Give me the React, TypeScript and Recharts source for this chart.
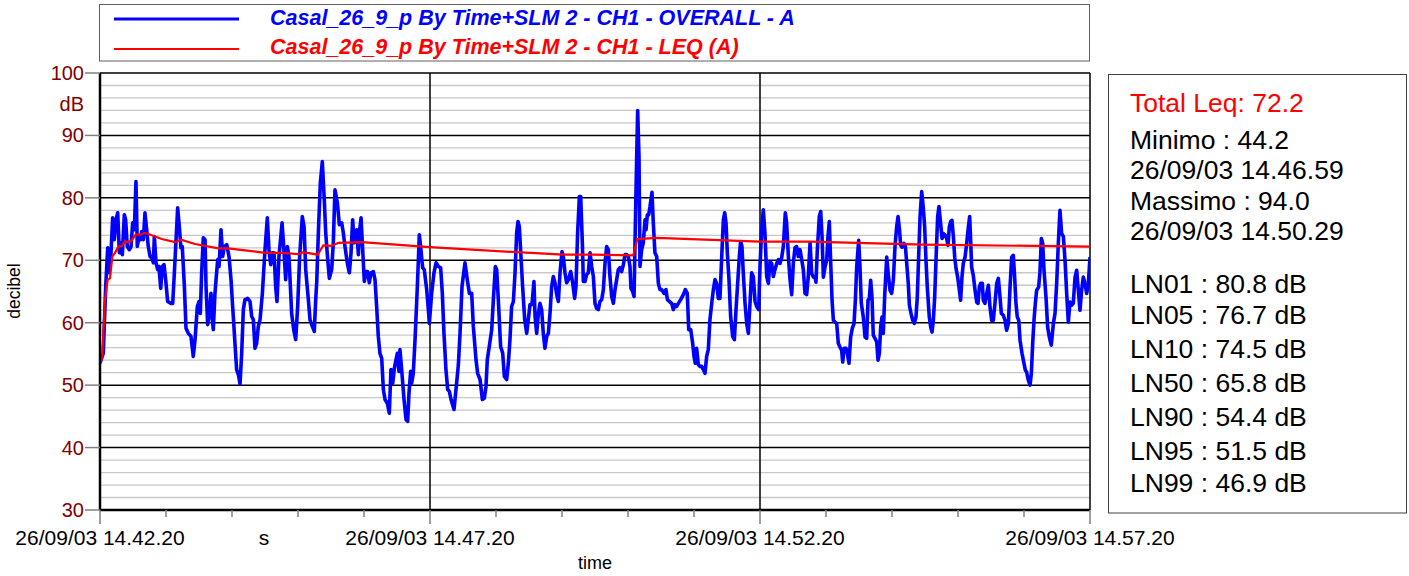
import React from 'react';
import { LineChart, Line, XAxis, YAxis, ReferenceLine } from 'recharts';

const FONT = '"Liberation Sans", Arial, Helvetica, sans-serif';

// OVERALL - A : [seconds since 14.42.20, dB]
const overallSamples: [number, number][] = [
  [0, 53.5], [3.0, 55.1], [5.2, 65.8], [7.0, 72.0], [8.2, 68.0], [10.0, 71.2], [11.5, 76.8], [13.0, 73.3], [14.5, 76.5], [16.1, 77.6],
  [17.6, 71.2], [19.1, 72.8], [20.3, 70.9], [22.1, 77.3], [23.3, 76.5], [24.8, 72.2], [26.7, 71.7], [28.2, 72.2], [29.7, 76.0], [31.2, 74.9],
  [32.7, 82.6], [33.9, 72.2], [35.5, 73.8], [37.0, 73.3], [37.9, 74.6], [39.4, 73.3], [40.9, 77.6], [42.4, 74.9], [43.9, 72.2], [45.5, 70.6],
  [47.0, 70.4], [48.5, 69.6], [49.4, 73.8], [50.9, 69.6], [52.4, 68.5], [53.6, 69.0], [55.2, 65.5], [56.7, 69.0], [58.2, 69.3], [59.7, 66.9],
  [61.5, 63.4], [64.5, 63.1], [66.1, 63.1], [67.6, 68.0], [70.6, 78.4], [72.1, 75.4], [73.6, 72.0], [74.8, 72.2], [76.7, 65.8], [78.2, 59.1],
  [80.3, 58.3], [82.7, 57.8], [84.8, 54.6], [86.4, 57.3], [88.5, 62.6], [90.0, 63.4], [91.2, 61.5], [92.4, 68.0], [93.9, 73.6], [95.5, 73.3],
  [96.4, 65.8], [97.9, 59.7], [99.4, 61.5], [100.9, 64.7], [102.1, 60.5], [103.0, 58.9], [104.5, 64.7], [107.0, 70.1], [108.2, 69.0], [110.0, 74.9],
  [111.5, 70.6], [113.0, 72.2], [115.2, 72.5], [117.3, 70.6], [119.1, 66.9], [120.6, 62.6], [122.7, 56.7], [124.2, 52.5], [125.8, 51.7], [127.3, 50.2],
  [128.8, 55.1], [130.3, 62.1], [131.8, 63.7], [134.2, 63.9], [136.4, 63.4], [137.9, 61.0], [139.4, 60.5], [140.9, 55.9], [142.4, 56.7], [143.9, 59.4],
  [145.5, 60.5], [147.6, 64.7], [150.0, 71.7], [152.1, 76.8], [153.6, 71.7], [155.2, 69.3], [156.7, 71.2], [158.2, 71.2], [159.7, 65.8], [160.9, 63.4],
  [162.7, 70.6], [165.5, 76.0], [167.0, 72.2], [168.8, 66.9], [170.3, 72.2], [171.8, 70.6], [174.2, 61.5], [176.1, 58.9], [177.9, 57.3], [179.7, 62.6],
  [181.5, 70.6], [183.9, 77.0], [185.5, 75.4], [187.0, 68.5], [189.4, 63.7], [190.9, 60.5], [193.0, 59.4], [194.8, 58.6], [196.1, 63.7], [197.0, 66.4],
  [198.5, 74.4], [200.3, 82.4], [202.1, 85.8], [203.9, 79.7], [205.2, 74.4], [207.0, 70.1], [208.5, 67.1], [210.6, 68.5], [212.1, 72.8], [213.6, 81.3],
  [215.8, 79.2], [217.6, 75.7], [219.7, 76.0], [221.2, 74.4], [222.7, 72.2], [224.8, 69.6], [226.7, 68.0], [228.2, 71.2], [229.7, 76.5], [230.9, 72.8],
  [232.4, 73.3], [233.3, 74.9], [234.9, 70.9], [235.8, 74.4], [237.3, 76.8], [238.8, 71.7], [240.3, 66.6], [241.8, 68.2], [243.3, 68.2], [244.8, 66.4],
  [246.4, 68.0], [248.5, 68.2], [250.0, 66.9], [251.5, 62.6], [253.0, 57.8], [254.5, 55.1], [256.1, 54.3], [257.6, 49.3], [259.1, 47.7], [261.2, 47.1],
  [263.0, 45.5], [264.5, 52.5], [266.1, 50.3], [267.6, 52.7], [268.8, 53.8], [270.3, 55.1], [271.8, 52.2], [272.7, 55.7], [274.5, 51.9], [276.4, 47.7],
  [278.2, 44.5], [279.7, 44.2], [280.9, 48.7], [282.4, 52.2], [283.3, 50.3], [284.8, 51.9], [286.4, 57.3], [288.5, 65.8], [290.3, 74.1], [291.5, 72.2],
  [293.3, 68.8], [294.8, 68.5], [297.0, 65.3], [298.5, 62.1], [299.4, 59.9], [301.5, 64.7], [303.6, 68.0], [305.5, 69.6], [307.6, 69.0], [309.7, 68.8],
  [311.2, 64.7], [312.7, 58.3], [314.5, 52.5], [316.1, 49.3], [317.6, 49.0], [319.1, 47.7], [321.8, 46.1], [324.2, 50.3], [325.8, 53.3], [327.3, 58.3],
  [329.1, 65.8], [331.8, 69.6], [333.9, 66.9], [335.8, 64.7], [337.9, 64.7], [339.4, 59.4], [341.8, 54.1], [343.3, 51.9], [345.5, 50.9], [347.6, 47.7],
  [349.4, 47.9], [350.9, 49.8], [352.1, 54.1], [353.9, 56.2], [356.1, 58.9], [357.6, 63.7], [359.4, 69.0], [360.6, 68.5], [362.1, 63.7], [364.2, 56.2],
  [366.1, 55.1], [367.6, 51.4], [369.7, 50.9], [371.2, 53.5], [372.7, 57.3], [374.2, 62.6], [375.8, 63.4], [377.3, 68.0], [378.8, 74.4], [380.0, 76.2],
  [381.2, 75.4], [382.7, 70.6], [384.2, 65.8], [386.1, 60.5], [387.9, 58.3], [389.7, 61.0], [390.9, 62.9], [392.7, 62.9], [394.5, 66.6], [395.5, 61.0],
  [397.0, 58.3], [398.5, 61.5], [400.0, 63.1], [401.5, 62.1], [403.0, 58.3], [404.5, 55.9], [406.1, 57.8], [407.6, 58.3], [409.1, 61.5], [410.6, 65.8],
  [412.1, 67.4], [413.6, 66.4], [415.2, 64.5], [416.7, 63.4], [418.2, 68.0], [420.0, 71.4], [421.2, 70.6], [422.7, 68.0], [424.2, 66.4], [425.8, 66.9],
  [427.9, 68.2], [429.7, 66.4], [431.5, 63.9], [432.7, 65.8], [434.2, 74.4], [435.8, 80.2], [437.0, 80.2], [438.5, 72.8], [439.4, 66.6], [440.9, 66.6],
  [442.4, 67.7], [443.9, 68.0], [445.5, 71.2], [447.0, 69.0], [448.5, 67.4], [450.0, 63.1], [451.5, 62.3], [453.0, 62.1], [454.5, 63.4], [456.1, 63.7],
  [457.6, 65.3], [459.1, 69.5], [460.6, 72.2], [462.1, 71.7], [463.6, 67.4], [465.2, 64.2], [466.7, 63.1], [468.2, 65.3], [469.7, 66.9], [471.2, 68.5],
  [472.7, 68.8], [474.2, 68.2], [475.8, 69.3], [477.3, 70.9], [478.8, 70.9], [480.3, 70.6], [481.8, 69.0], [482.7, 65.5], [484.2, 65.0], [485.5, 64.2],
  [486.7, 76.0], [487.9, 86.6], [488.8, 94.0], [490.0, 86.6], [490.9, 69.0], [492.4, 71.7], [493.9, 72.8], [495.5, 76.5], [496.4, 74.9], [497.6, 77.3],
  [498.8, 77.3], [500.0, 78.6], [501.8, 80.9], [503.0, 76.0], [504.5, 71.2], [506.1, 70.6], [507.6, 66.3], [509.1, 65.3], [510.6, 65.3], [512.7, 64.7],
  [514.5, 65.3], [515.8, 63.7], [517.6, 63.4], [519.7, 63.1], [521.2, 62.1], [522.7, 62.9], [524.2, 62.6], [525.8, 63.1], [527.9, 63.7], [530.3, 64.5],
  [532.1, 65.3], [533.9, 64.7], [535.2, 58.9], [537.0, 58.9], [538.8, 56.7], [540.0, 54.6], [541.2, 53.5], [542.4, 55.9], [543.9, 53.3], [545.5, 53.0],
  [547.0, 53.0], [548.5, 52.5], [550.0, 51.9], [551.5, 54.6], [553.0, 55.7], [554.5, 60.5], [556.1, 63.1], [557.6, 65.3], [559.1, 66.9], [560.6, 66.3],
  [562.1, 63.9], [563.6, 63.9], [565.2, 70.6], [566.7, 76.5], [567.9, 77.6], [569.1, 76.0], [570.3, 71.2], [571.8, 66.9], [573.3, 61.0], [575.2, 57.8],
  [576.7, 57.3], [578.2, 62.1], [579.7, 66.3], [581.2, 70.6], [582.4, 73.0], [583.6, 72.2], [584.8, 68.0], [586.4, 63.1], [587.9, 59.9], [589.4, 58.3],
  [590.9, 63.1], [592.4, 68.0], [593.9, 67.4], [595.5, 63.4], [597.0, 62.6], [598.8, 62.1], [600.0, 69.0], [601.5, 74.9], [603.0, 78.1], [604.5, 74.4],
  [606.1, 67.4], [607.6, 66.3], [609.1, 69.8], [610.6, 69.5], [612.1, 67.4], [613.6, 68.5], [615.2, 69.5], [616.7, 70.1], [618.2, 69.5], [619.7, 70.4],
  [621.2, 72.2], [623.0, 77.6], [624.2, 76.0], [625.8, 70.6], [627.3, 66.9], [628.8, 64.5], [630.3, 69.5], [631.8, 72.0], [633.3, 72.2], [634.8, 70.6],
  [636.4, 71.7], [637.9, 70.1], [639.4, 68.5], [640.9, 64.7], [642.4, 64.5], [643.9, 67.4], [645.5, 72.8], [647.0, 67.9], [648.5, 67.3], [650.0, 67.3],
  [650.9, 66.5], [652.1, 71.6], [653.9, 77.0], [655.2, 77.8], [656.4, 73.8], [657.6, 67.3], [659.1, 68.9], [660.6, 70.0], [661.8, 73.8], [663.0, 76.2],
  [664.2, 70.0], [665.5, 63.6], [666.7, 60.4], [668.2, 60.1], [669.7, 59.9], [671.2, 56.7], [672.7, 56.1], [674.2, 55.6], [675.2, 53.7], [676.4, 55.9],
  [678.2, 55.9], [679.4, 55.1], [680.9, 53.5], [682.4, 57.7], [683.9, 59.1], [685.5, 59.9], [686.7, 63.6], [687.9, 68.9], [689.7, 73.2], [690.9, 68.9],
  [692.1, 63.1], [693.9, 60.9], [695.5, 57.7], [697.0, 57.5], [698.2, 63.6], [699.4, 63.9], [700.6, 66.8], [701.8, 64.1], [703.0, 58.0], [704.5, 57.5],
  [706.1, 56.9], [707.3, 54.0], [708.5, 55.1], [709.7, 59.3], [710.9, 60.9], [712.1, 58.3], [713.3, 64.1], [715.2, 70.5], [716.7, 67.6], [718.2, 65.2],
  [719.7, 64.7], [721.2, 66.8], [722.7, 72.1], [724.2, 75.3], [725.5, 77.0], [726.7, 75.1], [727.9, 72.4], [729.1, 72.1], [730.9, 72.7], [732.1, 72.4],
  [733.3, 69.7], [734.8, 66.3], [735.8, 62.8], [737.3, 61.5], [738.8, 60.4], [740.3, 59.9], [741.8, 60.9], [743.0, 64.1], [744.2, 70.5], [745.5, 77.0],
  [747.0, 81.0], [748.5, 78.3], [749.7, 75.3], [750.9, 70.0], [752.1, 65.7], [753.9, 60.9], [755.2, 59.3], [756.4, 58.5], [757.6, 60.4], [758.8, 64.1],
  [760.0, 70.0], [761.5, 77.0], [762.7, 78.6], [764.2, 75.9], [765.5, 73.5], [766.7, 74.3], [768.5, 74.0], [769.7, 73.5], [770.9, 72.4], [772.1, 75.3],
  [773.3, 76.2], [774.5, 76.4], [775.8, 73.8], [777.0, 70.5], [778.2, 68.7], [779.7, 67.3], [780.9, 65.7], [782.4, 63.6], [783.6, 67.3], [784.8, 69.5],
  [786.4, 70.5], [787.9, 72.7], [789.4, 75.3], [790.6, 77.0], [791.5, 73.2], [792.4, 68.9], [793.9, 67.6], [795.5, 65.2], [797.0, 63.3], [798.2, 63.1],
  [799.4, 65.7], [800.6, 66.3], [802.1, 66.3], [803.0, 63.6], [804.5, 63.1], [806.1, 64.7], [807.6, 66.0], [809.1, 62.5], [810.6, 60.4], [812.1, 60.4],
  [813.6, 63.1], [815.2, 66.3], [816.7, 67.1], [818.2, 64.1], [819.4, 61.5], [821.2, 61.2], [822.7, 60.4], [824.2, 58.8], [825.8, 59.9], [827.3, 65.7],
  [828.8, 70.5], [830.3, 70.8], [831.5, 67.3], [832.7, 63.1], [833.9, 60.9], [835.2, 60.4], [836.4, 57.2], [838.2, 55.1], [840.0, 53.5], [841.2, 52.4],
  [842.4, 52.1], [843.9, 50.8], [845.5, 50.0], [846.7, 51.9], [847.9, 56.7], [849.1, 60.4], [850.3, 63.1], [851.5, 65.2], [853.3, 65.7], [854.5, 68.1],
  [855.8, 73.5], [857.0, 72.7], [858.2, 68.4], [860.0, 64.1], [861.5, 59.3], [863.0, 57.7], [864.8, 56.4], [866.7, 59.9], [868.2, 61.5], [869.7, 66.3],
  [871.2, 72.7], [872.7, 78.0], [874.2, 74.3], [875.8, 73.8], [877.3, 70.0], [878.8, 64.7], [880.3, 60.1], [881.8, 63.3], [883.3, 62.8], [884.8, 63.1],
  [886.4, 67.3], [887.9, 68.4], [889.4, 65.2], [890.9, 62.0], [892.4, 65.2], [893.9, 67.3], [895.5, 66.3], [897.0, 64.7], [898.5, 66.3], [900.0, 70.5],
];

// LEQ (A) running value : [seconds, dB]
const leqSamples: [number, number][] = [
  [0, 53.5], [2.1, 54.6], [4.5, 63.7], [7.0, 66.9], [9.1, 67.1], [11.2, 70.6], [13.6, 71.2], [16.7, 72.2], [19.7, 72.3], [22.7, 73.0],
  [25.8, 72.9], [28.8, 73.2], [32.4, 74.1], [36.4, 74.1], [40.9, 74.4], [43.9, 74.2], [56.1, 73.4], [68.2, 72.9], [73.6, 73.3], [86.4, 72.6],
  [107.6, 71.9], [116.7, 71.9], [131.8, 71.6], [150.0, 71.2], [165.2, 71.2], [180.3, 71.0], [184.8, 71.3], [197.9, 70.9], [203.0, 72.4], [210.6, 72.3],
  [216.7, 72.8], [237.9, 72.9], [300.0, 72.1], [378.8, 71.3], [421.2, 70.9], [448.5, 70.9], [484.8, 70.8], [488.5, 73.4], [506.1, 73.6], [600.0, 73.0],
  [645.5, 73.0], [748.5, 72.5], [900.0, 72.2],
];

const yTickValues = [30, 40, 50, 60, 70, 80, 90, 95, 100];
const yUnitTick = 95;
const yUnitLabel = 'dB';
const yMajorGrid = [40, 50, 60, 70, 80, 90, 100];
const yMinorGrid = [32, 34, 36, 38, 42, 44, 46, 48, 52, 54, 56, 58, 62, 64, 66, 68, 72, 74, 76, 78, 82, 84, 86, 88, 92, 94, 96, 98];
const xTickValues = [0, 60, 120, 180, 240, 300, 360, 420, 480, 540, 600, 660, 720, 780, 840, 900];
const xMajorTicks = [0, 300, 600, 900];
const xMajorLabels = ['26/09/03 14.42.20', '26/09/03 14.47.20', '26/09/03 14.52.20', '26/09/03 14.57.20'];
const xVerticalGrid = [300, 600, 900];

const legendItems = [
  { label: 'Casal_26_9_p By Time+SLM 2 - CH1 - OVERALL - A', color: '#0000ff', width: 3 },
  { label: 'Casal_26_9_p By Time+SLM 2 - CH1 - LEQ (A)', color: '#ff0000', width: 2 },
];
const statsTitle = 'Total Leq: 72.2';
const statsLines = ['Minimo : 44.2', '26/09/03 14.46.59', 'Massimo : 94.0', '26/09/03 14.50.29'];
const lnLines = ['LN01 : 80.8 dB', 'LN05 : 76.7 dB', 'LN10 : 74.5 dB', 'LN50 : 65.8 dB', 'LN90 : 54.4 dB', 'LN95 : 51.5 dB', 'LN99 : 46.9 dB'];

const overallData = overallSamples.map(([t, db]) => ({ t, db }));
const leqData = leqSamples.map(([t, db]) => ({ t, db }));

const YTick = (props: any) => {
  const { x, y, payload } = props;
  const v = payload.value;
  const isUnit = v === yUnitTick;
  return (
    <g>
      {!isUnit && <line x1={x - 15} x2={x} y1={y} y2={y} stroke="#808080" strokeWidth={1.5} />}
      <text x={x - 16} y={y} textAnchor="end" dominantBaseline="central" fill="#800000" fontSize={20} fontFamily={FONT}>
        {isUnit ? yUnitLabel : v}
      </text>
    </g>
  );
};

const XTick = (props: any) => {
  const { x, y, payload } = props;
  const idx = xMajorTicks.indexOf(payload.value);
  const major = idx >= 0;
  return (
    <g>
      <line x1={x} x2={x} y1={y} y2={y + (major ? 14 : 7)} stroke="#808080" strokeWidth={1.5} />
      {major && (
        <text x={x} y={y + 27} textAnchor="middle" dominantBaseline="central" fill="#000" fontSize={21} fontFamily={FONT}>
          {xMajorLabels[idx]}
        </text>
      )}
    </g>
  );
};

const lnBaselines = [293, 324, 358, 392, 426, 460, 492];
const statBaselines = [149, 179, 210, 240];

export default function App() {
  return (
    <div style={{ position: 'absolute', left: 0, top: 0, width: 1409, height: 576, background: '#fff', fontFamily: FONT }}>
      <LineChart width={1409} height={576} margin={{ top: 73, right: 319, bottom: 6, left: 0 }}>
        <XAxis
          dataKey="t"
          type="number"
          domain={[0, 900]}
          ticks={xTickValues}
          interval={0}
          tick={<XTick />}
          tickLine={false}
          tickSize={0}
          tickMargin={0}
          height={60}
          axisLine={{ stroke: '#000', strokeWidth: 2.5 }}
          allowDataOverflow
        />
        <YAxis
          type="number"
          domain={[30, 100]}
          ticks={yTickValues}
          interval={0}
          tick={<YTick />}
          tickLine={false}
          tickSize={0}
          tickMargin={0}
          width={100}
          axisLine={{ stroke: '#000', strokeWidth: 2.5 }}
          allowDataOverflow
        />
        {yMinorGrid.map((v) => (
          <ReferenceLine key={'m' + v} y={v} stroke="#c8c8c8" strokeWidth={1.3} />
        ))}
        {yMajorGrid.map((v) => (
          <ReferenceLine key={'M' + v} y={v} stroke="#000" strokeWidth={1.5} />
        ))}
        {xVerticalGrid.map((v) => (
          <ReferenceLine key={'v' + v} x={v} stroke="#000" strokeWidth={1.5} />
        ))}
        <Line data={overallData} dataKey="db" type="linear" stroke="#0000ff" strokeWidth={3.6} dot={false} isAnimationActive={false} strokeLinejoin="round" />
        <Line data={leqData} dataKey="db" type="linear" stroke="#ff0000" strokeWidth={2.2} dot={false} isAnimationActive={false} />
      </LineChart>
      <svg width={1409} height={576} style={{ position: 'absolute', left: 0, top: 0, pointerEvents: 'none' }}>
        <rect x={99.5} y={4.5} width={990} height={56.5} fill="#fff" stroke="#606060" strokeWidth={1} />
        {legendItems.map((it, i) => (
          <g key={it.label}>
            <line x1={114} x2={239} y1={19 + i * 30} y2={19 + i * 30} stroke={it.color} strokeWidth={it.width} />
            <text x={270} y={18 + i * 29} dominantBaseline="central" fill={it.color} fontSize={21.5} fontWeight="bold" fontStyle="italic" fontFamily={FONT}>
              {it.label}
            </text>
          </g>
        ))}
        <rect x={1108.5} y={74.5} width={298} height={438.5} fill="#fff" stroke="#404040" strokeWidth={1} />
        <text x={1130} y={111.5} fill="#ff0000" fontSize={26.5} fontFamily={FONT}>{statsTitle}</text>
        {statsLines.map((s, i) => (
          <text key={s} x={1130} y={statBaselines[i]} fill="#000" fontSize={26.5} fontFamily={FONT}>{s}</text>
        ))}
        {lnLines.map((s, i) => (
          <text key={s} x={1130} y={lnBaselines[i]} fill="#000" fontSize={26.5} fontFamily={FONT}>{s}</text>
        ))}
        <text x={264} y={537} textAnchor="middle" dominantBaseline="central" fill="#000" fontSize={21} fontFamily={FONT}>s</text>
        <text x={595} y={563} textAnchor="middle" dominantBaseline="central" fill="#000" fontSize={18} fontFamily={FONT}>time</text>
        <text x={14} y={291} textAnchor="middle" dominantBaseline="central" fill="#000" fontSize={17.5} fontFamily={FONT} transform="rotate(-90 14 291)">decibel</text>
      </svg>
    </div>
  );
}
